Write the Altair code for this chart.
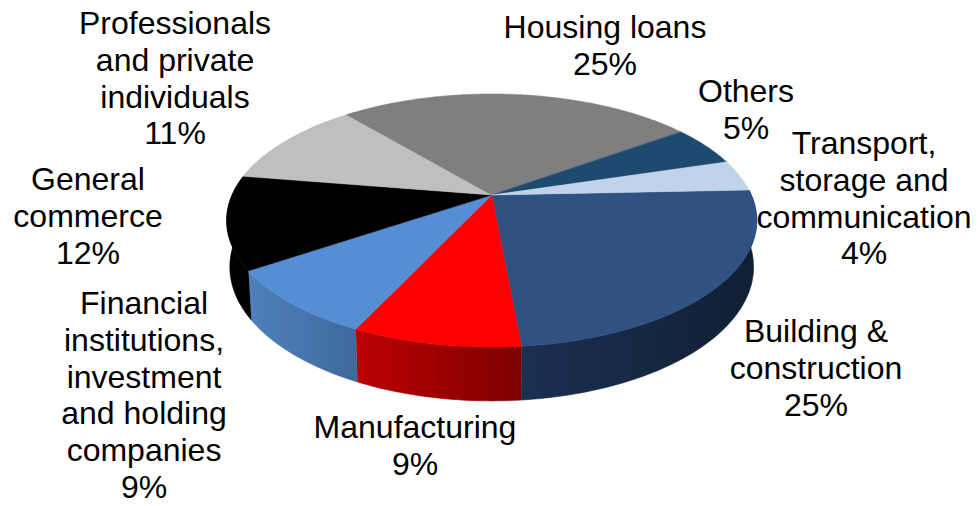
import math
import altair as alt
import pandas as pd

names = ["Building & construction", "Manufacturing",
         "Financial institutions, investment and holding companies",
         "General commerce", "Professionals and private individuals",
         "Housing loans", "Others", "Transport, storage and communication"]
printed = [25, 9, 9, 12, 11, 25, 5, 4]
shares = [24.2, 8.5, 8.6, 11.9, 11.3, 26.3, 5.2, 4.0]

top_colors = ["#2F5282", "#FF0000", "#558ED5", "#000000",
              "#BFBFBF", "#7F7F7F", "#1F4A70", "#C0D3EA"]
wall_left = ["#1B2F52", "#BC0000", "#4F80BC", "#000000",
             "#BFBFBF", "#7F7F7F", "#1F4A70", "#C0D3EA"]
wall_right = ["#111F33", "#7E0000", "#3F699B", "#000000",
              "#BFBFBF", "#7F7F7F", "#1F4A70", "#C0D3EA"]

label_lines = [
    ["Building &", "construction", "25%"],
    ["Manufacturing", "9%"],
    ["Financial", "institutions,", "investment", "and holding", "companies", "9%"],
    ["General", "commerce", "12%"],
    ["Professionals", "and private", "individuals", "11%"],
    ["Housing loans", "25%"],
    ["Others", "5%"],
    ["Transport,", "storage and", "communication", "4%"],
]
label_x = [816, 415, 144, 88, 175, 605, 746, 864]
label_y = [342, 438, 314, 190, 34, 38, 102, 154]

# Layout of the tilted disc
W, H = 963, 490
CX, CY, R, K, P = 491.7, 195.0, 259.6, 121.4, 0.2016
START = -2.38


def project(angle_deg, radius=1.0):
    a = math.radians(angle_deg)
    u, v = radius * math.cos(a), radius * math.sin(a)
    s = 1 / (1 - P * v)
    return CX + R * u * s, CY + K * v * s, s


def arc(a0, a1):
    n = max(2, int(abs(a1 - a0) / 1.0))
    return [a0 + (a1 - a0) * i / n for i in range(n + 1)]


xs = alt.X("x:Q", axis=None, scale=alt.Scale(domain=[8, 8 + W], nice=False, zero=False))
ys = alt.Y("y:Q", axis=None, scale=alt.Scale(domain=[8 + H, 8], nice=False, zero=False))

walls, tops = [], []
angle = START
for i, share in enumerate(shares):
    a0, a1 = angle, angle + share * 3.6
    angle = a1
    # visible outer wall
    wa0, wa1 = max(a0, -20), min(a1, 200)
    if wa1 > wa0:
        upper, lower = [], []
        for a in arc(wa0, wa1):
            x, y, s = project(a)
            upper.append((x, y))
            lower.append((CX + (x - CX) * 0.988, y + 10 + 35 * s))
        pts = upper + lower[::-1]
        df = pd.DataFrame({"x": [p[0] for p in pts], "y": [p[1] for p in pts],
                           "o": range(len(pts))})
        grad = alt.Gradient(gradient="linear", x1=0, x2=1, y1=0, y2=0,
                            stops=[alt.GradientStop(color=wall_left[i], offset=0),
                                   alt.GradientStop(color=wall_right[i], offset=1)])
        walls.append(alt.Chart(df).mark_line(fill=grad, stroke=grad, strokeWidth=0.6)
                     .encode(x=xs, y=ys, order="o:Q"))
    # top face
    pts = [(CX, CY)] + [project(a)[:2] for a in arc(a0, a1)] + [(CX, CY)]
    df = pd.DataFrame({"x": [p[0] for p in pts], "y": [p[1] for p in pts],
                       "o": range(len(pts))})
    tops.append(alt.Chart(df).mark_line(fill=top_colors[i], stroke=top_colors[i], strokeWidth=0.5)
                .encode(x=xs, y=ys, order="o:Q"))

label_df = pd.DataFrame({"name": names, "printed": printed, "x": label_x, "y": label_y,
                         "text": label_lines})
labels = alt.Chart(label_df).mark_text(
    font="Liberation Sans", fontSize=32, color="#000000", align="center",
    baseline="alphabetic", lineHeight=36.8, clip=False
).encode(x=xs, y=ys, text="text")

chart = alt.layer(*walls, *tops, labels).properties(
    width=W, height=H, padding=0, autosize=alt.AutoSizeParams(type="none")
).configure_view(stroke=None)

chart.save("out.html", embed_options={"renderer": "svg", "actions": False})
